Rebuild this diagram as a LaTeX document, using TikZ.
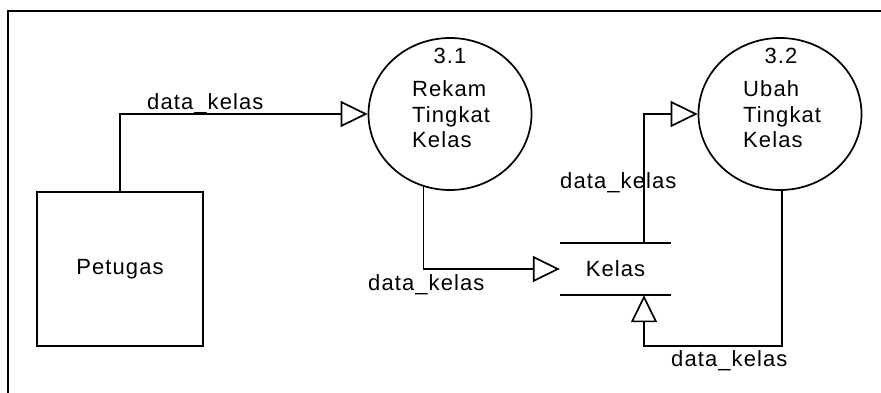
\documentclass[tikz,border=0pt]{standalone}
\usepackage{fontspec}
\setmainfont{Liberation Sans}[LetterSpace=5]
\usetikzlibrary{shapes.geometric,arrows.meta}
\tikzset{
  every node/.style={font=\fontsize{22}{26}\selectfont, inner sep=0pt},
  proc/.style={draw, ellipse, line width=1.7pt, minimum width=163pt, minimum height=152pt},
  entity/.style={draw, rectangle, line width=1.7pt, minimum width=166pt, minimum height=154pt},
  store/.style={rectangle, minimum width=111pt, minimum height=52pt},
  flow/.style={line width=1.7pt, -{Triangle[open, length=27pt, width=26pt, line width=1.7pt]}},
  plain/.style={line width=1.7pt},
  lbl/.style={anchor=base west},
}
\begin{document}
\begin{tikzpicture}[x=1pt, y=-1pt]
\useasboundingbox (0,0) rectangle (881,393);
% frame
\draw[line width=2pt] (8,393) -- (8,11) -- (881,11);
% nodes
\node[entity] (pet) at (120,269) {Petugas};
\node[proc] (p31) at (450,114) {};
\node[proc] (p32) at (780,114) {};
\node[store] (kelas) at (615.5,269) {Kelas};
\draw[plain] (kelas.north west) -- (kelas.north east);
\draw[plain] (kelas.south west) -- (kelas.south east);
% process texts
\node (n31) at (450,64) [anchor=base] {3.1};
\node[lbl] (t31a) at (412,97) {Rekam};
\node[lbl] (t31b) at (412,123) {Tingkat};
\node[lbl] (t31c) at (412,148) {Kelas};
\node (n32) at (781,64) [anchor=base] {3.2};
\node[lbl] (t32a) at (743,97) {Ubah};
\node[lbl] (t32b) at (743,123) {Tingkat};
\node[lbl] (t32c) at (743,148) {Kelas};
% helper coordinates
\coordinate (k1) at ([xshift=28.5pt]kelas.north);
\coordinate (k2) at ([xshift=28.5pt]kelas.south);
\coordinate (c4) at (782,346);
% flows
\draw[flow] (pet.north) |- (p31.west);
\draw[flow] (p31.250) |- (kelas.west);
\draw[flow] (k1) |- (p32.west);
\draw[flow] (p32.south -| c4) -- (c4) -| (k2);
% labels
\node[lbl] (l1) at (147,110) {data\_kelas};
\node[lbl] (l2) at (368,290) {data\_kelas};
\node[lbl] (l3) at (560,188) {data\_kelas};
\node[lbl] (l4) at (671,366) {data\_kelas};
\end{tikzpicture}
\end{document}
